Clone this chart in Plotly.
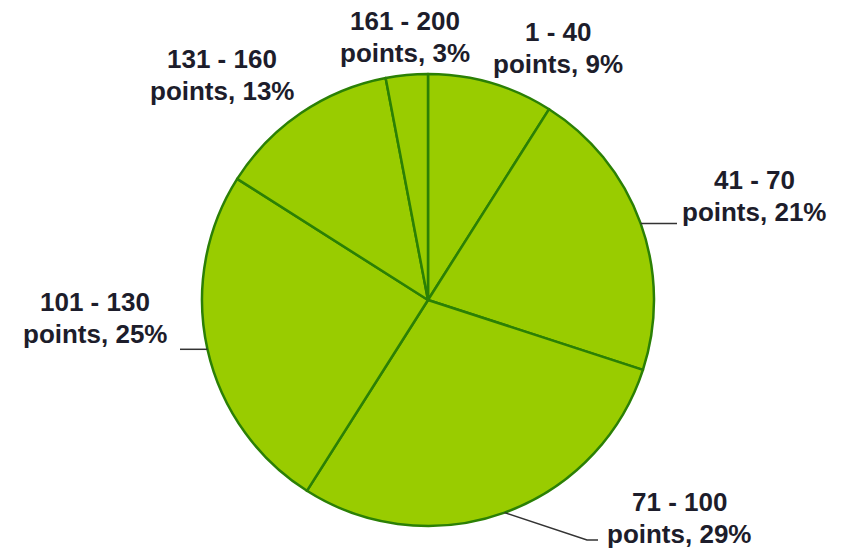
import math
import plotly.graph_objects as go

# ---- data ----
categories = ["1 - 40", "41 - 70", "71 - 100", "101 - 130", "131 - 160", "161 - 200"]
percent = [9, 21, 29, 25, 13, 3]

# ---- layout / style (pixel positions in the 850x550 canvas) ----
W, H = 850, 550
CX, CY, R = 428, 300, 226            # pie centre and radius in px
label_centers = [(558, 48), (754, 196), (679, 518), (95, 318), (222, 75), (405, 37)]
LINE_GAP = 32
leader_label = {1: [(677, None)], 2: [(587, 540), (598, 540)], 3: [(193, None), (180, None)]}

FILL = "#99cc00"
EDGE = "#2b8005"
TEXT = "#1d1d2b"


def px(x):
    return x / W


def py(y):
    return 1 - y / H


fig = go.Figure(go.Pie(
    labels=categories,
    values=percent,
    sort=False,
    direction="clockwise",
    rotation=0,
    textinfo="none",
    hoverinfo="label+percent",
    marker=dict(colors=[FILL] * len(categories), line=dict(color=EDGE, width=2.5)),
    domain=dict(x=[px(CX - R), px(CX + R)], y=[py(CY + R), py(CY - R)]),
    showlegend=False,
))

annotations = []
for i, (cat, p) in enumerate(zip(categories, percent)):
    lx, ly = label_centers[i]
    for k, txt in enumerate([cat, f"points, {p}%"]):
        annotations.append(dict(
            x=px(lx), y=py(ly - LINE_GAP / 2 + k * LINE_GAP), xref="paper", yref="paper",
            text=txt, showarrow=False, xanchor="center", yanchor="middle",
            font=dict(family="Liberation Sans, Arial, sans-serif", size=26, color=TEXT, weight="bold"),
        ))

# leader lines from slice mid-angle on the rim
shapes = []
cum = 0
total = sum(percent)
for i, p in enumerate(percent):
    mid = (cum + p / 2) / total * 2 * math.pi
    cum += p
    if i not in leader_label:
        continue
    sx = CX + R * math.sin(mid)
    sy = CY - R * math.cos(mid)
    pts = [(sx, sy)]
    for (ex, ey) in leader_label[i]:
        pts.append((ex, ey if ey is not None else pts[-1][1]))
    path = "M " + " L ".join(f"{px(a)},{py(b)}" for a, b in pts)
    shapes.append(dict(type="path", path=path, xref="paper", yref="paper",
                       line=dict(color="#333333", width=1.5)))

fig.update_layout(
    width=W, height=H,
    margin=dict(l=0, r=0, t=0, b=0),
    paper_bgcolor="white", plot_bgcolor="white",
    annotations=annotations,
    shapes=shapes,
)

fig.write_html("out.html")
